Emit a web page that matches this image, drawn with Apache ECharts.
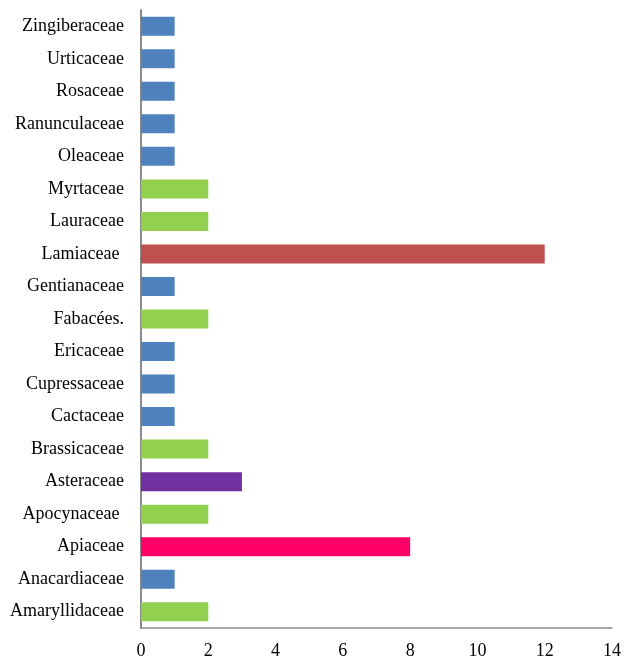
<!DOCTYPE html>
<html>
<head>
<meta charset="utf-8">
<script src="https://cdn.jsdelivr.net/npm/echarts@6/dist/echarts.min.js"></script>
<style>
html,body{margin:0;padding:0;background:#fff;}
#chart{width:624px;height:662px;}
</style>
</head>
<body>
<div id="chart"></div>
<script>
// Data (bottom to top)
var categories = ["Amaryllidaceae","Anacardiaceae","Apiaceae","Apocynaceae ","Asteraceae","Brassicaceae","Cactaceae","Cupressaceae","Ericaceae","Fabacées.","Gentianaceae","Lamiaceae ","Lauraceae","Myrtaceae","Oleaceae","Ranunculaceae","Rosaceae","Urticaceae","Zingiberaceae"];
var values = [2,1,8,2,3,2,1,1,1,2,1,12,2,2,1,1,1,1,1];
var xTicks = [0,2,4,6,8,10,12,14];

// Styling
var colorByValue = {1:"#4F81BD",2:"#92D050",3:"#7030A0",8:"#FF0066",12:"#C0504D"};
var font = "'Liberation Serif','Times New Roman',serif";

var chart = echarts.init(document.getElementById('chart'), null, {renderer:'canvas'});
chart.setOption({
  animation:false,
  grid:{left:141,right:10,top:10,bottom:34,containLabel:false},
  xAxis:{
    type:'value',min:xTicks[0],max:xTicks[xTicks.length-1],interval:2,
    axisLine:{show:true,lineStyle:{color:'#8a8a8a',width:1.5}},
    axisTick:{show:false},
    splitLine:{show:false},
    axisLabel:{color:'#000',fontFamily:font,fontSize:18,margin:14}
  },
  yAxis:{
    type:'category',data:categories,
    axisLine:{show:true,lineStyle:{color:'#8a8a8a',width:2}},
    axisTick:{show:false},
    axisLabel:{color:'#000',fontFamily:font,fontSize:18,margin:17}
  },
  series:[{
    type:'bar',
    data:values.map(function(v){return {value:v,itemStyle:{color:colorByValue[v]}};}),
    barWidth:19
  }]
});
</script>
</body>
</html>
